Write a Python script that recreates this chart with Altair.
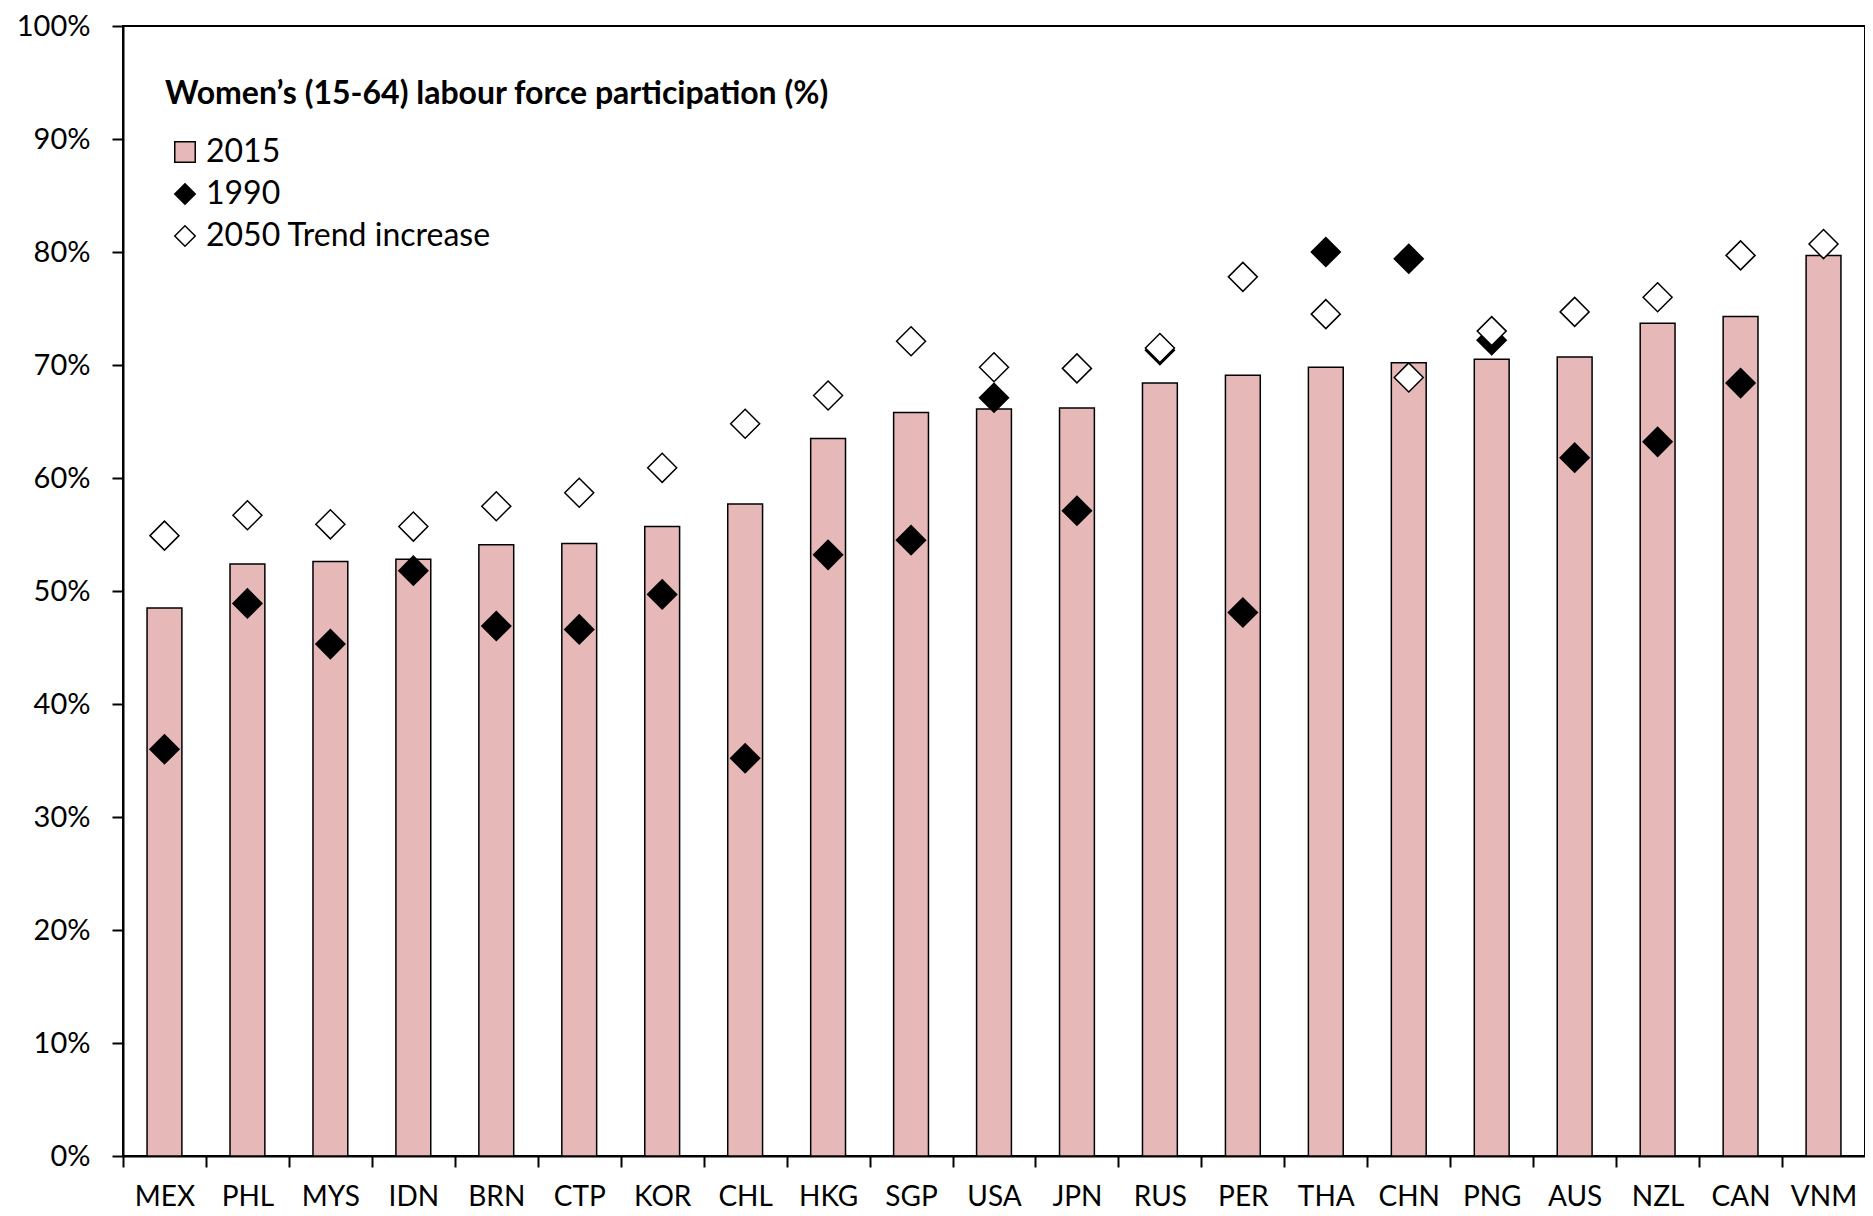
import altair as alt
import pandas as pd

countries = ["MEX", "PHL", "MYS", "IDN", "BRN", "CTP", "KOR", "CHL", "HKG", "SGP", "USA",
             "JPN", "RUS", "PER", "THA", "CHN", "PNG", "AUS", "NZL", "CAN", "VNM"]
lfp_2015 = [48.5, 52.4, 52.6, 52.8, 54.1, 54.2, 55.7, 57.7, 63.5, 65.8, 66.1,
            66.2, 68.4, 69.1, 69.8, 70.2, 70.5, 70.7, 73.7, 74.3, 79.7]
lfp_1990 = [36.0, 48.9, 45.3, 51.8, 46.9, 46.6, 49.7, 35.2, 53.2, 54.5, 67.1,
            57.1, 71.3, 48.1, 80.0, 79.4, 72.2, 61.8, 63.2, 68.4, None]
lfp_2050 = [54.9, 56.7, 55.9, 55.7, 57.5, 58.7, 60.9, 64.8, 67.3, 72.1, 69.8,
            69.7, 71.5, 77.8, 74.5, 68.9, 73.0, 74.7, 76.0, 79.7, 80.7]
series_names = ["2015", "1990", "2050 Trend increase"]
y_ticks = [0, 10, 20, 30, 40, 50, 60, 70, 80, 90, 100]

rows = []
for s, vals in zip(series_names, [lfp_2015, lfp_1990, lfp_2050]):
    for c, v in zip(countries, vals):
        if v is not None:
            rows.append({"country": c, "series": s, "value": v})
df = pd.DataFrame(rows)

FONT = "Lato"
W, H = 1742, 1130
step = W / len(countries)

legend = alt.Legend(
    title="Women’s (15-64) labour force participation (%)",
    orient="none", legendX=42, legendY=53, padding=0,
    titleFont=FONT, titleFontSize=32, titleFontWeight="bold", titleColor="black",
    titlePadding=25, titleLimit=1200, labelLimit=800,
    labelFont=FONT, labelFontSize=32, labelColor="black",
    symbolSize=420, symbolStrokeColor="black", symbolStrokeWidth=1.5,
    rowPadding=10, symbolOffset=4, labelOffset=5,
)

fill_scale = alt.Scale(domain=series_names, range=["#E6B9B8", "black", "white"])
shape_scale = alt.Scale(domain=series_names, range=["square", "diamond", "diamond"])

x_enc = alt.X(
    "country:N", sort=countries, title=None,
    scale=alt.Scale(paddingInner=0.58, paddingOuter=0.29),
    axis=alt.Axis(labelAngle=0, tickOffset=-step / 2, labelOffset=step / 2,
                  labelPadding=16, labelFont=FONT, labelFontSize=28),
)
y_enc = alt.Y(
    "value:Q", title=None,
    scale=alt.Scale(domain=[0, 100], nice=False),
    axis=alt.Axis(values=y_ticks, labelExpr="datum.value + '%'", labelPadding=22,
                  labelFont=FONT, labelFontSize=29),
)

bars = alt.Chart(df).transform_filter(alt.datum.series == "2015").mark_bar(
    stroke="black", strokeWidth=1.5
).encode(
    x=x_enc, y=y_enc,
    fill=alt.Fill("series:N", scale=fill_scale, legend=legend),
)

points = alt.Chart(df).transform_filter(alt.datum.series != "2015").mark_point(
    filled=True, stroke="black", strokeWidth=1.5, size=841, opacity=1
).encode(
    x=x_enc, y=y_enc,
    fill=alt.Fill("series:N", scale=fill_scale, legend=legend),
    shape=alt.Shape("series:N", scale=shape_scale, legend=legend),
)

chart = alt.layer(bars, points).properties(
    width=W, height=H,
    autosize=alt.AutoSizeParams(type="none"),
    padding={"left": 115, "top": 18, "right": 0, "bottom": 60},
).configure_view(
    stroke="black", strokeWidth=2
).configure_axis(
    domainColor="black", domainWidth=2, tickColor="black", tickWidth=2,
    tickSize=11, labelColor="black", grid=False,
)

chart.save("out.html", embed_options={"renderer": "svg", "actions": False})
